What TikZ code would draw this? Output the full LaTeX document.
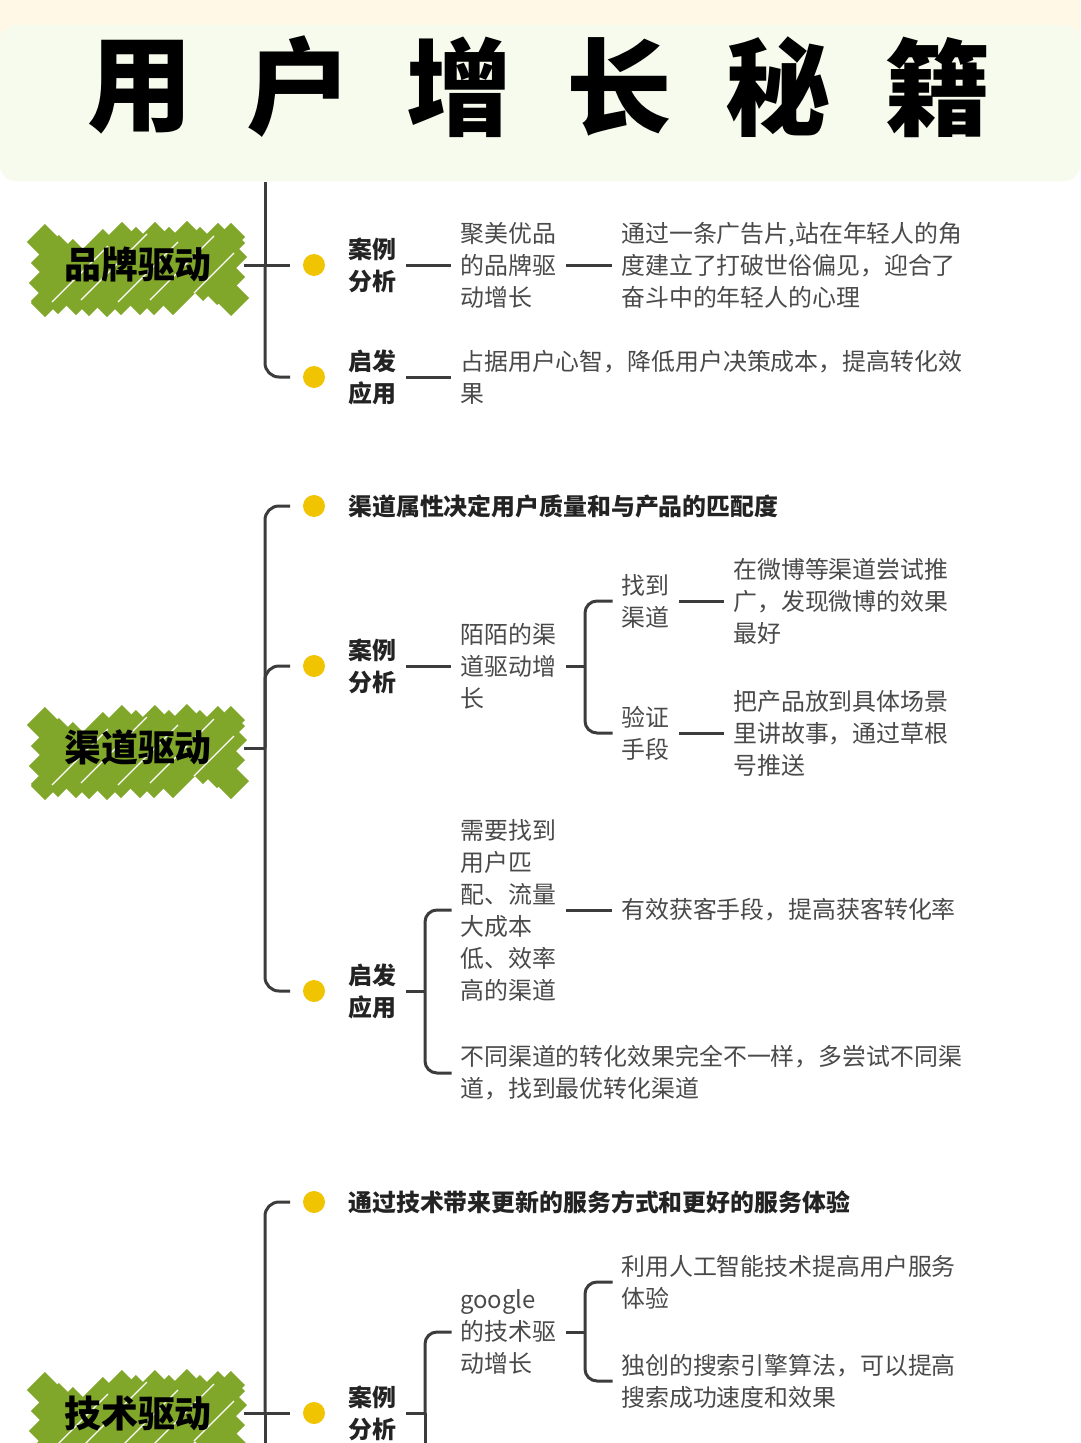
\documentclass[tikz,border=0pt]{standalone}
\usepackage{fontspec}
\setmainfont{Noto Sans CJK SC}
\usepackage{tikz}
\usetikzlibrary{positioning}
\usetikzlibrary{calc}
\definecolor{creamtop}{HTML}{FFF8E6}
\definecolor{panelgreen}{HTML}{F6FBED}
\definecolor{badgegreen}{HTML}{80A62A}
\definecolor{dotyellow}{HTML}{F0C400}
\definecolor{linkgray}{HTML}{3C3C3C}
\definecolor{leafgray}{HTML}{4A4A4A}
\definecolor{taggray}{HTML}{232323}
\newcommand{\leaffont}{\fontsize{13.6pt}{18.2pt}\selectfont}
% scribbled green badge: #1 name, #2 centre, #3 text
\newcommand{\drivebadge}[3]{%
  \begin{scope}[shift={#2},shift={(0,5)}]
    \foreach \u/\v/\a in {-95/-30/9,-86/-14/14,-84/24/16,-80/-2/22,
        -64/2/36,-48/-2/39,-32/1/37,-16/-1/40,0/2/38,16/-2/40,32/1/37,48/-1/39,64/2/36,
        80/2/22,84/-24/16,86/14/14,95/30/9}
      \draw[badgestroke] (\u-\a,\v+\a) -- (\u+\a,\v-\a);
    \foreach \u/\v/\a in {-58/4/28,-24/-3/33,10/2/30,44/-2/32,76/3/20}
      \draw[badgehatch] (\u-\a,\v+\a) -- (\u+\a,\v-\a);
  \end{scope}
  \node[badgetext] (#1) at #2 {#3};}

\begin{document}
\begin{tikzpicture}[x=0.02cm,y=-0.02cm,
    link/.style={draw=linkgray,line width=0.06cm},
    limb/.style={link,rounded corners=0.28cm},
    tie/.style={link,shorten <=0.2cm,shorten >=0.18cm},
    stem/.style={link,shorten <=0.2cm},
    fork/.style={link,rounded corners=0.24cm,shorten >=0.17cm},
    dot/.style={circle,fill=dotyellow,minimum size=0.44cm,inner sep=0pt,outer sep=0.26cm},
    leaf/.style={anchor=west,inner sep=0pt,align=left,text=leafgray,font=\leaffont},
    tag/.style={leaf,text=taggray,font=\leaffont\bfseries},
    lead/.style={tag},
    badgestroke/.style={draw=badgegreen,line width=0.4cm},
    badgehatch/.style={draw=white,line width=0.025cm},
    badgetext/.style={inner ysep=0pt,inner xsep=0.64cm,text=black,font=\fontsize{21pt}{24pt}\selectfont\bfseries},
    titlechar/.style={inner sep=0pt,font=\fontsize{60pt}{64pt}\selectfont\bfseries}]
  \clip (0,0) rectangle (1080,1443);
  \fill[white] (0,0) rectangle (1080,1443);
  % title band
  \fill[creamtop] (0,0) rectangle (1080,60);
  \fill[panelgreen,rounded corners=0.32cm] (0,25) rectangle (1080,181);
  \foreach \ch [count=\k] in {用,户,增,长,秘,籍}
    \node[titlechar] (t\k) at ({140+(\k-1)*159.6},87) {\ch};

  % brand branch
  \drivebadge{b1}{(138,265)}{品牌驱动}
  \coordinate (h1) at (265,265);
  \coordinate (top1) at (265,182);
  \node[dot] (d1a) at (314,265) {};
  \node[dot] (d1b) at (314,377) {};
  \draw[link] (h1) -- (top1);
  \draw[link] (b1.east) -- (d1a.west);
  \draw[limb] (h1) |- (d1b.west);
  \node[tag] (c1) at (348,265) {案例\\分析};
  \node[leaf] (c1m) at (460,265) {聚美优品\\的品牌驱\\动增长};
  \node[leaf] (c1t) at (621,265) {通过一条广告片,站在年轻人的角\\度建立了打破世俗偏见，迎合了\\奋斗中的年轻人的心理};
  \node[tag] (i1) at (348,377) {启发\\应用};
  \node[leaf] (i1t) at (460,377) {占据用户心智，降低用户决策成本，提高转化效\\果};
  \draw[tie] (c1) -- (c1m);
  \draw[tie] (c1m) -- (c1t);
  \draw[tie] (i1) -- (i1t);

  % channel branch
  \drivebadge{b2}{(138,748)}{渠道驱动}
  \coordinate (h2) at (265,748);
  \node[dot] (d2a) at (314,506) {};
  \node[dot] (d2b) at (314,666) {};
  \node[dot] (d2c) at (314,991) {};
  \draw[link] (b2.east) -- (h2);
  \foreach \d in {d2a,d2b,d2c}
    \draw[limb] (h2) |- (\d.west);
  \node[lead] (s2) at (348,506) {渠道属性决定用户质量和与产品的匹配度};
  \node[tag] (c2) at (348,666) {案例\\分析};
  \node[leaf] (c2m) at (460,666) {陌陌的渠\\道驱动增\\长};
  \coordinate (k2) at (585,666);
  \node[leaf] (c2a) at (621,601) {找到\\渠道};
  \node[leaf] (c2b) at (621,733) {验证\\手段};
  \node[leaf] (c2at) at (733,601) {在微博等渠道尝试推\\广，发现微博的效果\\最好};
  \node[leaf] (c2bt) at (733,733) {把产品放到具体场景\\里讲故事，通过草根\\号推送};
  \draw[tie] (c2) -- (c2m);
  \draw[stem] (c2m.east) -- (k2);
  \draw[fork] (k2) |- (c2a.west);
  \draw[fork] (k2) |- (c2b.west);
  \draw[tie] (c2a) -- (c2at);
  \draw[tie] (c2b) -- (c2bt);
  \node[tag] (i2) at (348,991) {启发\\应用};
  \coordinate (k2i) at (425,991);
  \node[leaf] (i2a) at (460,910) {需要找到\\用户匹\\配、流量\\大成本\\低、效率\\高的渠道};
  \node[leaf] (i2at) at (621,910) {有效获客手段，提高获客转化率};
  \node[leaf] (i2b) at (460,1073) {不同渠道的转化效果完全不一样，多尝试不同渠\\道，找到最优转化渠道};
  \draw[stem] (i2.east) -- (k2i);
  \draw[fork] (k2i) |- (i2a.west);
  \draw[fork] (k2i) |- (i2b.west);
  \draw[tie] (i2a) -- (i2at);

  % technology branch
  \drivebadge{b3}{(138,1413)}{技术驱动}
  \coordinate (h3) at (265,1413);
  \coordinate (bot3) at (265,1460);
  \node[dot] (d3a) at (314,1202) {};
  \node[dot] (d3b) at (314,1413) {};
  \draw[link] (b3.east) -- (d3b.west);
  \draw[limb] (h3) |- (d3a.west);
  \draw[link] (h3) -- (bot3);
  \node[lead] (s3) at (348,1202) {通过技术带来更新的服务方式和更好的服务体验};
  \node[tag] (c3) at (348,1413) {案例\\分析};
  \coordinate (k3) at (425,1413);
  \coordinate (k3end) at (425,1460);
  \node[leaf] (c3m) at (460,1332) {google\\的技术驱\\动增长};
  \coordinate (k3m) at (585,1332);
  \node[leaf] (c3a) at (621,1282) {利用人工智能技术提高用户服务\\体验};
  \node[leaf] (c3b) at (621,1381) {独创的搜索引擎算法，可以提高\\搜索成功速度和效果};
  \draw[stem] (c3.east) -- (k3);
  \draw[fork] (k3) |- (c3m.west);
  \draw[link] (k3) -- (k3end);
  \draw[stem] (c3m.east) -- (k3m);
  \draw[fork] (k3m) |- (c3a.west);
  \draw[fork] (k3m) |- (c3b.west);
\end{tikzpicture}
\end{document}
